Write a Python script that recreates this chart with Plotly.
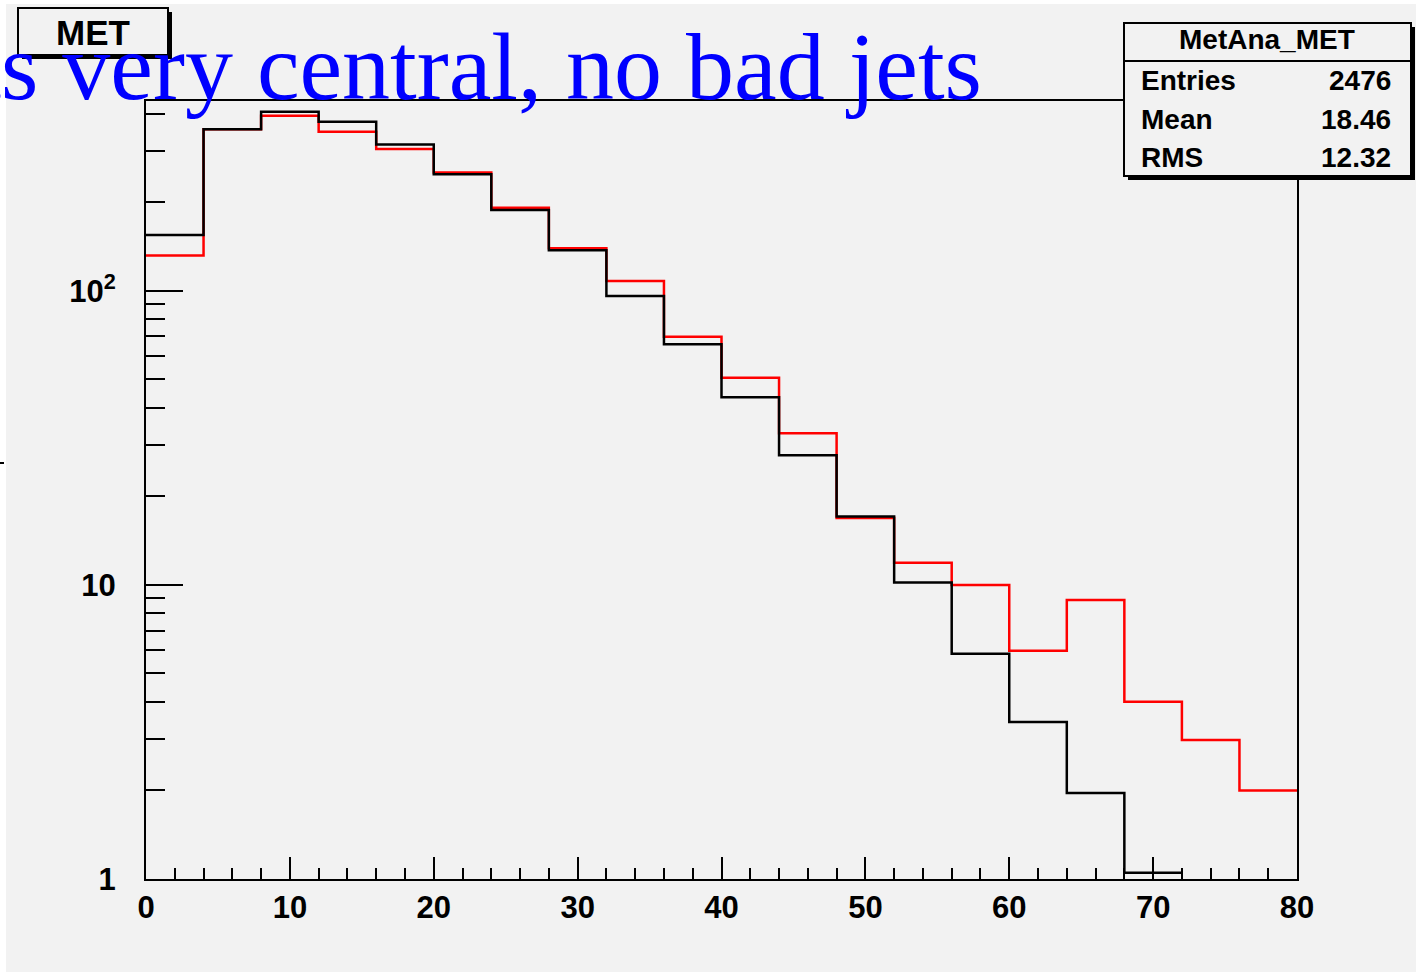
import plotly.graph_objects as go

# MET histogram: 20 bins of width 4 from 0 to 80
bin_edges = [0, 4, 8, 12, 16, 20, 24, 28, 32, 36, 40, 44, 48, 52, 56, 60, 64, 68, 72, 76, 80]
met_black = [155, 355, 407, 376, 315, 249.4, 188.6, 137.5, 96.2, 65.9, 43.5, 27.6, 17.1,
             10.2, 5.83, 3.42, 1.96, 1.05]
met_red = [132, 355, 394, 348, 304, 252.6, 192, 139.7, 108.1, 69.9, 50.7, 32.8, 16.9,
           11.9, 10.0, 5.97, 8.89, 4.01, 2.97, 2.0]

x_ticks = [0, 10, 20, 30, 40, 50, 60, 70, 80]
y_ticks = [1, 10, 100]
y_tick_text = ["1", "10", "10<sup>2</sup>"]
y_minor = [2, 3, 4, 5, 6, 7, 8, 9, 20, 30, 40, 50, 60, 70, 80, 90, 200, 300, 400]

stats_title = "MetAna_MET"
stats_labels = ["Entries", "Mean", "RMS"]
stats_values = ["2476", "18.46", "12.32"]
hist_title = "MET"
caption = "jets very central, no bad jets"

W, H = 1416, 972
L, R, T, B = 146, 119, 101, 93
PW, PH = W - L - R, H - T - B
BG = "#f2f2f2"


def px(x):
    return (x - L) / PW


def py(y):
    return (H - B - y) / PH


def step(counts):
    xs = bin_edges[:len(counts) + 1]
    ys = list(counts) + [counts[-1]]
    return xs, ys


fig = go.Figure()
for counts, color in [(met_red, "#ff0000"), (met_black, "#000000")]:
    xs, ys = step(counts)
    fig.add_trace(go.Scatter(x=xs, y=ys, mode="lines", line=dict(color=color, width=2.5, shape="hv"),
                             hoverinfo="skip", showlegend=False))

tickfont = dict(family="Liberation Sans, Arial, sans-serif", size=31, color="black", weight="bold")

fig.update_layout(
    width=W, height=H,
    margin=dict(l=L, r=R, t=T, b=B),
    paper_bgcolor=BG, plot_bgcolor=BG,
    showlegend=False,
    xaxis=dict(range=[0, 80], tickmode="array", tickvals=x_ticks, ticks="inside", ticklen=22,
               tickwidth=2, tickcolor="black", tickfont=tickfont, ticklabelstandoff=0,
               minor=dict(dtick=2, tick0=0, ticks="inside", ticklen=11, tickwidth=2, tickcolor="black"),
               showline=True, linewidth=2, linecolor="black", mirror=True,
               showgrid=False, zeroline=False),
    yaxis=dict(type="log", range=[0, 2.646], tickmode="array", tickvals=y_ticks, ticktext=y_tick_text,
               ticks="inside", ticklen=37, tickwidth=2, tickcolor="black", tickfont=tickfont,
               ticklabelstandoff=22,
               minor=dict(tickmode="array", tickvals=y_minor, ticks="inside", ticklen=19,
                          tickwidth=2, tickcolor="black"),
               showline=True, linewidth=2, linecolor="black", mirror=True,
               showgrid=False, zeroline=False),
)

shapes = []
# white page edge on the left and top
shapes.append(dict(type="rect", xref="paper", yref="paper", x0=px(0), x1=px(6), y0=py(H), y1=py(0),
                   fillcolor="white", line=dict(width=0), layer="above"))
shapes.append(dict(type="rect", xref="paper", yref="paper", x0=px(0), x1=px(W), y0=py(4), y1=py(0),
                   fillcolor="white", line=dict(width=0), layer="above"))
shapes.append(dict(type="line", xref="paper", yref="paper", x0=px(0), x1=px(4), y0=py(463), y1=py(463),
                   line=dict(color="black", width=2), layer="above"))


def box(x0, y0, x1, y1, shadow=4):
    # drop shadow then framed box
    shapes.append(dict(type="rect", xref="paper", yref="paper",
                       x0=px(x0 + shadow), x1=px(x1 + shadow), y0=py(y1 + shadow), y1=py(y0 + shadow),
                       fillcolor="black", line=dict(width=0), layer="above"))
    shapes.append(dict(type="rect", xref="paper", yref="paper",
                       x0=px(x0), x1=px(x1), y0=py(y1), y1=py(y0),
                       fillcolor=BG, line=dict(color="black", width=2), layer="above"))


box(18, 8, 168, 55)
box(1124, 23, 1411, 176)
shapes.append(dict(type="line", xref="paper", yref="paper", x0=px(1124), x1=px(1411), y0=py(61), y1=py(61),
                   line=dict(color="black", width=2), layer="above"))
fig.update_layout(shapes=shapes)

boldfont = dict(family="Liberation Sans, Arial, sans-serif", color="black", weight="bold")
ann = []
ann.append(dict(xref="paper", yref="paper", x=px(93), y=py(32), text=hist_title, showarrow=False,
                xanchor="center", yanchor="middle", font=dict(size=35, **boldfont)))
ann.append(dict(xref="paper", yref="paper", x=px(1267), y=py(40), text=stats_title, showarrow=False,
                xanchor="center", yanchor="middle", font=dict(size=28, **boldfont)))
for i, (lab, val) in enumerate(zip(stats_labels, stats_values)):
    yc = [80, 119, 157][i]
    ann.append(dict(xref="paper", yref="paper", x=px(1139), y=py(yc), text=lab, showarrow=False,
                    xanchor="left", yanchor="middle", font=dict(size=28, **boldfont)))
    ann.append(dict(xref="paper", yref="paper", x=px(1393), y=py(yc), text=val, showarrow=False,
                    xanchor="right", yanchor="middle", font=dict(size=28, **boldfont)))
ann.append(dict(xref="paper", yref="paper", x=px(984), y=py(122), text=caption, showarrow=False,
                xanchor="right", yanchor="bottom",
                font=dict(family="Liberation Serif, Times New Roman, serif", size=96, color="#0000ff")))
fig.update_layout(annotations=ann)

fig.write_html("out.html")
